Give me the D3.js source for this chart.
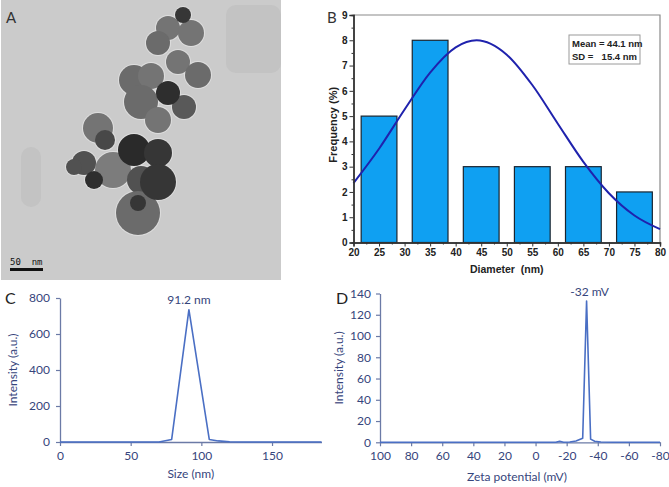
<!DOCTYPE html>
<html>
<head>
<meta charset="utf-8">
<script src="https://cdn.jsdelivr.net/npm/d3@7"></script>
<style>
  body { margin: 0; background: #fff; }
  svg { display: block; }
</style>
</head>
<body>
<div id="chart"></div>
<script>
// Panel A: TEM particles (image units 0..280)
const particles = [
  [167, 28, 12, 0.5], [190, 33, 13, 0.5], [157, 43, 12, 0.55],
  [177, 62, 12, 0.5], [197, 75, 13, 0.55],
  [133, 80, 15, 0.55], [150, 76, 13, 0.5],
  [140, 102, 17, 0.55], [183, 107, 12, 0.65], [157, 120, 13, 0.5],
  [97, 128, 15, 0.5], [112, 170, 18, 0.45], [83, 163, 12, 0.7],
  [73, 167, 8, 0.7], [104, 140, 10, 0.75], [93, 180, 9, 0.9],
  [140, 180, 14, 0.7], [137, 213, 22, 0.55], [137, 203, 8, 0.85],
  [182, 15, 8, 0.85], [167, 93, 12, 0.9],
  [133, 150, 16, 0.92], [157, 153, 14, 0.85], [157, 182, 18, 0.85]
];
const patches = [[225, 5, 55, 68], [20, 147, 20, 60]];

// Panel B: histogram
const binCenters = [25, 35, 45, 55, 65, 75];
const binFreq = [5, 8, 3, 3, 3, 2];
const fitX = [20, 25, 30, 35, 40, 44.1, 50, 55, 60, 65, 70, 75, 80];
const fitY = [2.35, 3.71, 5.26, 6.72, 7.72, 8.0, 7.43, 6.23, 4.70, 3.19, 1.95, 1.07, 0.53];

// Panel C: size distribution
const sizeX = [0, 70, 79, 91.2, 105.6, 112, 120, 130, 185];
const sizeY = [0, 0, 14, 735, 14, 6, 1, 0, 0];

// Panel D: zeta potential
const zetaX = [100, -13, -15.5, -18, -22, -26, -30.3, -32.8, -35.4, -38, -42, -50, -80];
const zetaY = [0, 0, 1, 0, 0.3, 1.2, 3.8, 133, 3, 1, 0.3, 0, 0];

const svg = d3.select("#chart").append("svg")
  .attr("width", 669)
  .attr("height", 487);

svg.append("rect").attr("width", 669).attr("height", 487).attr("fill", "#fff");

// ---------- Panel A ----------
const xA = d3.scaleLinear().domain([0, 280]).range([1, 281]);
const yA = d3.scaleLinear().domain([0, 280]).range([0, 280]);
const shade = d3.scaleLinear().domain([0, 1]).range(["#cbcbcb", "#1c1c1c"]);

const gA = svg.append("g");
gA.append("rect")
  .attr("x", xA(0)).attr("y", yA(0))
  .attr("width", xA(280) - xA(0)).attr("height", yA(280) - yA(0))
  .attr("fill", "#cbcbcb");

gA.selectAll("rect.patch")
  .data(patches)
  .enter()
  .append("rect")
  .attr("class", "patch")
  .attr("x", d => xA(d[0])).attr("y", d => yA(d[1]))
  .attr("width", d => xA(d[2]) - xA(0)).attr("height", d => yA(d[3]))
  .attr("rx", 10)
  .attr("fill", "#bfbfbf")
  .attr("opacity", 0.7);

// light halo behind the particles
gA.selectAll("circle.halo")
  .data(particles)
  .enter()
  .append("circle")
  .attr("class", "halo")
  .attr("cx", d => xA(d[0])).attr("cy", d => yA(d[1]))
  .attr("r", d => d[2] + 1)
  .attr("fill", "#dedede");

gA.selectAll("circle.particle")
  .data(particles)
  .enter()
  .append("circle")
  .attr("class", "particle")
  .attr("cx", d => xA(d[0])).attr("cy", d => yA(d[1]))
  .attr("r", d => d[2])
  .attr("fill", d => shade(d[3]));

gA.append("text")
  .attr("x", 6).attr("y", 23)
  .attr("font-family", "Lato, sans-serif")
  .attr("font-size", "15px")
  .attr("fill", "#333")
  .text("A");

gA.append("text")
  .attr("x", 10).attr("y", 265)
  .attr("font-family", "DejaVu Sans Mono, monospace")
  .attr("font-size", "9px")
  .attr("fill", "#111")
  .attr("xml:space", "preserve")
  .text("50  nm");
gA.append("rect")
  .attr("x", 10).attr("y", 268)
  .attr("width", 33).attr("height", 3)
  .attr("fill", "#111");

// ---------- Panel B ----------
const xB = d3.scaleLinear().domain([20, 80]).range([353.5, 660]);
const yB = d3.scaleLinear().domain([0, 9]).range([242.5, 15]);
const gB = svg.append("g")
  .attr("font-family", "Liberation Sans, Arial, sans-serif");

// frame
gB.append("path")
  .attr("d", `M${xB(20)},${yB(9)}H${xB(80)}V${yB(0)}`)
  .attr("fill", "none")
  .attr("stroke", "#8a8a8a")
  .attr("stroke-width", 1.2);

gB.selectAll("rect.bar")
  .data(binCenters)
  .enter()
  .append("rect")
  .attr("class", "bar")
  .attr("x", d => xB(d - 3.5))
  .attr("width", d => xB(d + 3.5) - xB(d - 3.5))
  .attr("y", (d, i) => yB(binFreq[i]))
  .attr("height", (d, i) => yB(0) - yB(binFreq[i]))
  .attr("fill", "#0fa0f2")
  .attr("stroke", "#1a2530")
  .attr("stroke-width", 1.2);

const fitLine = d3.line()
  .x(d => xB(d[0]))
  .y(d => yB(d[1]))
  .curve(d3.curveMonotoneX);
gB.append("path")
  .datum(fitX.map((x, i) => [x, fitY[i]]))
  .attr("d", fitLine)
  .attr("fill", "none")
  .attr("stroke", "#1f22ad")
  .attr("stroke-width", 2);

gB.append("g")
  .attr("transform", `translate(0,${yB(0)})`)
  .call(d3.axisBottom(xB).tickValues(d3.range(20, 81, 5)).tickSize(4).tickPadding(2));
gB.append("g")
  .attr("transform", `translate(0,${yB(0)})`)
  .call(d3.axisBottom(xB).tickValues(d3.range(22.5, 80, 5)).tickSize(2).tickFormat(""));
gB.append("g")
  .attr("transform", `translate(${xB(20)},0)`)
  .call(d3.axisLeft(yB).ticks(9).tickSize(4).tickPadding(2));
gB.append("g")
  .attr("transform", `translate(${xB(20)},0)`)
  .call(d3.axisLeft(yB).tickValues(d3.range(0.5, 9, 1)).tickSize(2).tickFormat(""));

gB.selectAll(".domain").attr("stroke", "#333").attr("stroke-width", 1.4);
gB.selectAll(".tick line").attr("stroke", "#333");
gB.selectAll(".tick text")
  .attr("font-size", "10px")
  .attr("font-weight", "bold")
  .attr("font-family", "Liberation Sans, Arial, sans-serif")
  .attr("fill", "#222");

gB.append("text")
  .attr("transform", `translate(337,${(yB(0) + yB(9)) / 2 - 4}) rotate(-90)`)
  .attr("text-anchor", "middle")
  .attr("font-size", "11px")
  .attr("font-weight", "bold")
  .attr("fill", "#222")
  .text("Frequency (%)");

gB.append("text")
  .attr("x", (xB(20) + xB(80)) / 2)
  .attr("y", 273)
  .attr("text-anchor", "middle")
  .attr("font-size", "10.5px")
  .attr("font-weight", "bold")
  .attr("fill", "#222")
  .attr("xml:space", "preserve")
  .text("Diameter  (nm)");

gB.append("text")
  .attr("x", 327).attr("y", 23)
  .attr("font-family", "Lato, sans-serif")
  .attr("font-size", "15px")
  .attr("fill", "#333")
  .text("B");

// legend box
const legendB = gB.append("g");
legendB.append("rect")
  .attr("x", 569).attr("y", 35)
  .attr("width", 71).attr("height", 29)
  .attr("fill", "#fff")
  .attr("stroke", "#9a9a9a")
  .attr("stroke-width", 1);
legendB.append("text")
  .attr("x", 572).attr("y", 47)
  .attr("font-size", "9.5px").attr("font-weight", "bold").attr("fill", "#222")
  .text("Mean = 44.1 nm");
legendB.append("text")
  .attr("x", 572).attr("y", 60)
  .attr("font-size", "9.5px").attr("font-weight", "bold").attr("fill", "#222")
  .text("SD =");
legendB.append("text")
  .attr("x", 637).attr("y", 60)
  .attr("text-anchor", "end")
  .attr("font-size", "9.5px").attr("font-weight", "bold").attr("fill", "#222")
  .text("15.4 nm");

// ---------- shared style for C and D ----------
const lineColor = "#4a6fc4";
const axisColor = "#6b7aa6";
const textColor = "#36457c";
const calibri = "Lato, 'Open Sans', sans-serif";

function styleExcelAxis(g) {
  g.selectAll(".domain").attr("stroke", axisColor).attr("stroke-width", 1.3);
  g.selectAll(".tick line").attr("stroke", axisColor).attr("stroke-width", 1.2);
  g.selectAll(".tick text")
    .attr("font-size", "12px")
    .attr("font-family", calibri)
    .attr("fill", textColor);
}

// ---------- Panel C ----------
const xC = d3.scaleLinear().domain([0, 185]).range([60, 321.5]);
const yC = d3.scaleLinear().domain([0, 800]).range([442, 298]);
const gC = svg.append("g");

const axC1 = gC.append("g")
  .attr("transform", `translate(0,${yC(0)})`)
  .call(d3.axisBottom(xC).tickValues([0, 50, 100, 150]).tickSizeInner(4).tickSizeOuter(0).tickPadding(5));
const axC2 = gC.append("g")
  .attr("transform", `translate(${xC(0)},0)`)
  .call(d3.axisLeft(yC).tickValues([0, 200, 400, 600, 800]).tickSizeInner(4).tickSizeOuter(0).tickPadding(6));
styleExcelAxis(axC1);
styleExcelAxis(axC2);

const lineC = d3.line().x(d => xC(d[0])).y(d => yC(d[1]));
gC.append("path")
  .datum(sizeX.map((x, i) => [x, sizeY[i]]))
  .attr("d", lineC)
  .attr("fill", "none")
  .attr("stroke", lineColor)
  .attr("stroke-width", 1.6)
  .attr("stroke-linejoin", "round");

gC.append("text")
  .attr("x", xC(91.2)).attr("y", 304)
  .attr("text-anchor", "middle")
  .attr("font-family", calibri).attr("font-size", "12px").attr("fill", textColor)
  .text("91.2 nm");
gC.append("text")
  .attr("x", (xC(0) + xC(185)) / 2).attr("y", 478)
  .attr("text-anchor", "middle")
  .attr("font-family", calibri).attr("font-size", "12px").attr("fill", textColor)
  .text("Size (nm)");
gC.append("text")
  .attr("transform", `translate(17,${(yC(0) + yC(800)) / 2}) rotate(-90)`)
  .attr("text-anchor", "middle")
  .attr("font-family", calibri).attr("font-size", "12px").attr("fill", textColor)
  .text("Intensity (a.u.)");
gC.append("text")
  .attr("x", 5).attr("y", 304)
  .attr("font-family", calibri).attr("font-size", "16px").attr("fill", "#222")
  .text("C");

// ---------- Panel D ----------
const xD = d3.scaleLinear().domain([100, -80]).range([380, 660]);
const yD = d3.scaleLinear().domain([0, 140]).range([442.3, 293.5]);
const gD = svg.append("g");

const axD1 = gD.append("g")
  .attr("transform", `translate(0,${yD(0)})`)
  .call(d3.axisBottom(xD).tickValues(d3.range(100, -81, -20)).tickSizeInner(4).tickSizeOuter(0).tickPadding(5)
    .tickFormat(d => d < 0 ? "-" + Math.abs(d) : d));
const axD2 = gD.append("g")
  .attr("transform", `translate(${xD(100)},0)`)
  .call(d3.axisLeft(yD).tickValues(d3.range(0, 141, 20)).tickSizeInner(4).tickSizeOuter(0).tickPadding(5));
styleExcelAxis(axD1);
styleExcelAxis(axD2);

const lineD = d3.line().x(d => xD(d[0])).y(d => yD(d[1]));
gD.append("path")
  .datum(zetaX.map((x, i) => [x, zetaY[i]]))
  .attr("d", lineD)
  .attr("fill", "none")
  .attr("stroke", lineColor)
  .attr("stroke-width", 1.6)
  .attr("stroke-linejoin", "round");

gD.append("text")
  .attr("x", xD(-32.8) + 3).attr("y", 296)
  .attr("text-anchor", "middle")
  .attr("font-family", calibri).attr("font-size", "12px").attr("fill", textColor)
  .text("-32 mV");
gD.append("text")
  .attr("x", 517).attr("y", 481)
  .attr("text-anchor", "middle")
  .attr("font-family", calibri).attr("font-size", "12px").attr("fill", textColor)
  .text("Zeta potential (mV)");
gD.append("text")
  .attr("transform", `translate(343,${(yD(0) + yD(140)) / 2}) rotate(-90)`)
  .attr("text-anchor", "middle")
  .attr("font-family", calibri).attr("font-size", "12px").attr("fill", textColor)
  .text("Intensity (a.u.)");
gD.append("text")
  .attr("x", 336).attr("y", 304)
  .attr("font-family", calibri).attr("font-size", "16px").attr("fill", "#222")
  .text("D");
</script>
</body>
</html>
